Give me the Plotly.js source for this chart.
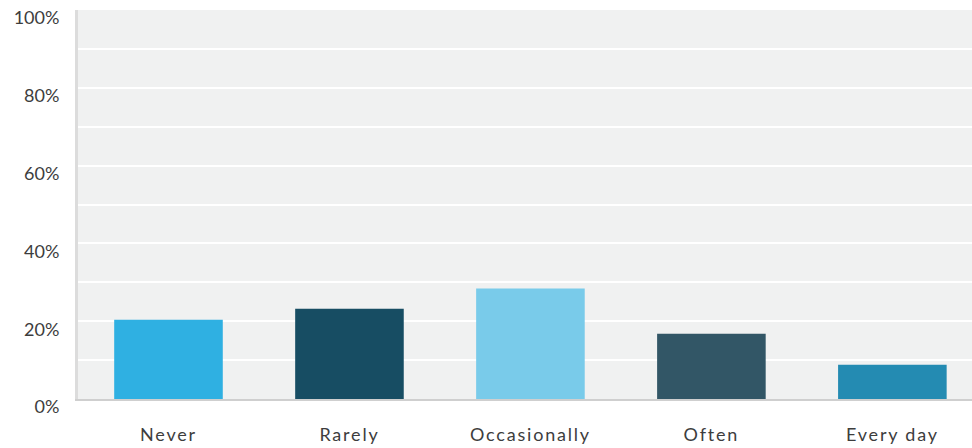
<!DOCTYPE html>
<html>
<head>
<meta charset="utf-8">
<script src="https://cdn.plot.ly/plotly-3.0.1.min.js"></script>
<style>
  html, body { margin: 0; padding: 0; background: #ffffff; }
  #chart { width: 972px; height: 448px; }
  .xtick text { letter-spacing: 1.8px; }
</style>
</head>
<body>
<div id="chart"></div>
<script>
// Share of responses per frequency answer (percent)
const categories = ['Never', 'Rarely', 'Occasionally', 'Often', 'Every day'];
const percents = [20.4, 23.2, 28.4, 16.8, 8.8];
const barColors = ['#2fb0e2', '#174d63', '#79cbea', '#325666', '#248bb2'];
const yTickValues = [0, 20, 40, 60, 80, 100];
const yTickLabels = ['0%', '20%', '40%', '60%', '80%', '100%'];

const trace = {
  type: 'bar',
  x: categories,
  y: percents,
  marker: { color: barColors, line: { width: 0 } },
  width: 0.6,
  hoverinfo: 'x+y'
};

const layout = {
  width: 972,
  height: 448,
  margin: { l: 78, r: 0, t: 10, b: 49 },
  paper_bgcolor: '#ffffff',
  plot_bgcolor: '#f0f1f1',
  showlegend: false,
  font: { family: 'Lato, "Open Sans", sans-serif', size: 18, color: '#3d3d3d' },
  xaxis: {
    type: 'category',
    range: [-0.5, 4.44],
    showgrid: false,
    zeroline: false,
    showline: true,
    linecolor: '#cfcfcf',
    linewidth: 2,
    ticks: '',
    ticklabelstandoff: 18,
    tickfont: { size: 18, color: '#3d3d3d' },
    fixedrange: true
  },
  yaxis: {
    range: [0, 100],
    tickvals: yTickValues,
    ticktext: yTickLabels,
    showgrid: true,
    gridcolor: '#ffffff',
    gridwidth: 2,
    minor: { dtick: 10, showgrid: true, gridcolor: '#ffffff', gridwidth: 2 },
    zeroline: false,
    showline: true,
    linecolor: '#dcdcdc',
    linewidth: 3,
    ticks: '',
    ticklabelstandoff: 12,
    ticklabelshift: 8,
    tickfont: { size: 18, color: '#3d3d3d' },
    fixedrange: true
  }
};

Plotly.newPlot('chart', [trace], layout, { displayModeBar: false, staticPlot: true });
</script>
</body>
</html>
